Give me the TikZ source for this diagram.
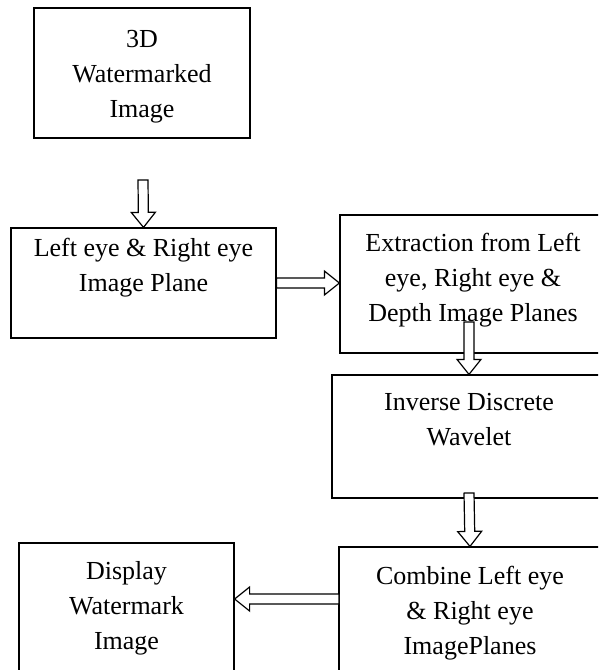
\documentclass[tikz,border=0pt]{standalone}
\usepackage{fontspec}
\setmainfont{Liberation Serif}
\usetikzlibrary{calc,positioning}
\tikzstyle{blockbox} = [draw=black, line width=1.2pt, rectangle, inner sep=0]
\tikzstyle{boxtext} = [align=center, inner sep=0, font=\fontsize{26}{35}\selectfont]
\tikzstyle{hollowarrow} = [draw=black, fill=white, line width=1.2pt, line join=miter,
    to path={($(\tikztostart)!5pt!90:(\tikztotarget)$)
      -- ($(\tikztotarget)!15pt!(\tikztostart)!5pt!-90:(\tikztostart)$)
      -- ($(\tikztotarget)!15pt!(\tikztostart)!12pt!-90:(\tikztostart)$)
      -- (\tikztotarget)
      -- ($(\tikztotarget)!15pt!(\tikztostart)!12pt!90:(\tikztostart)$)
      -- ($(\tikztotarget)!15pt!(\tikztostart)!5pt!90:(\tikztostart)$)
      -- ($(\tikztostart)!5pt!-90:(\tikztotarget)$) -- cycle}]

\begin{document}
\begin{tikzpicture}[x=1pt, y=-1pt]
    \useasboundingbox (0,0) rectangle (598,670);
    \clip (0,0) rectangle (598,670);

    \node[blockbox, minimum width=216pt, minimum height=130pt] (b1) at (142,73) {};
    \node[blockbox, minimum width=265pt, minimum height=110pt] (b2) at (143.5,283) {};
    \node[blockbox, minimum width=266pt, minimum height=138pt] (b3) at (473,284) {};
    \node[blockbox, minimum width=274pt, minimum height=123pt] (b4) at (469,436.5) {};
    \node[blockbox, minimum width=262pt, minimum height=143pt] (b5) at (470,618.5) {};
    \node[blockbox, minimum width=215pt, minimum height=147pt] (b6) at (126.5,616.5) {};

    \node[boxtext, below=23pt of b1.north] (t1) {3D\\Watermarked\\Image};
    \node[boxtext, below=11pt of b2.north] (t2) {Left eye \& Right eye\\Image Plane};
    \node[boxtext, below=19pt of b3.north] (t3) {Extraction from Left\\eye, Right eye \&\\Depth Image Planes};
    \node[boxtext, below=19pt of b4.north] (t4) {Inverse Discrete\\Wavelet};
    \node[boxtext, below=20pt of b5.north] (t5) {Combine Left eye\\\& Right eye\\ImagePlanes};
    \node[boxtext, below=19pt of b6.north] (t6) {Display\\Watermark\\Image};

    \coordinate (a1s) at (143,180);
    \coordinate (a2t) at (b3.west |- b2.east);
    \coordinate (a3s) at (469,322);
    \coordinate (a4s) at (469,493);
    \coordinate (a5s) at (339,599);
    \coordinate (a5t) at (b6.east |- a5s);

    \draw[hollowarrow] (a1s) to (b2.north);
    \draw[hollowarrow] (b2.east) to (a2t);
    \draw[hollowarrow] (a3s) to (b4.north);
    \draw[hollowarrow] (a4s) to (b5.north);
    \draw[hollowarrow] (a5s) to (a5t);
\end{tikzpicture}
\end{document}
